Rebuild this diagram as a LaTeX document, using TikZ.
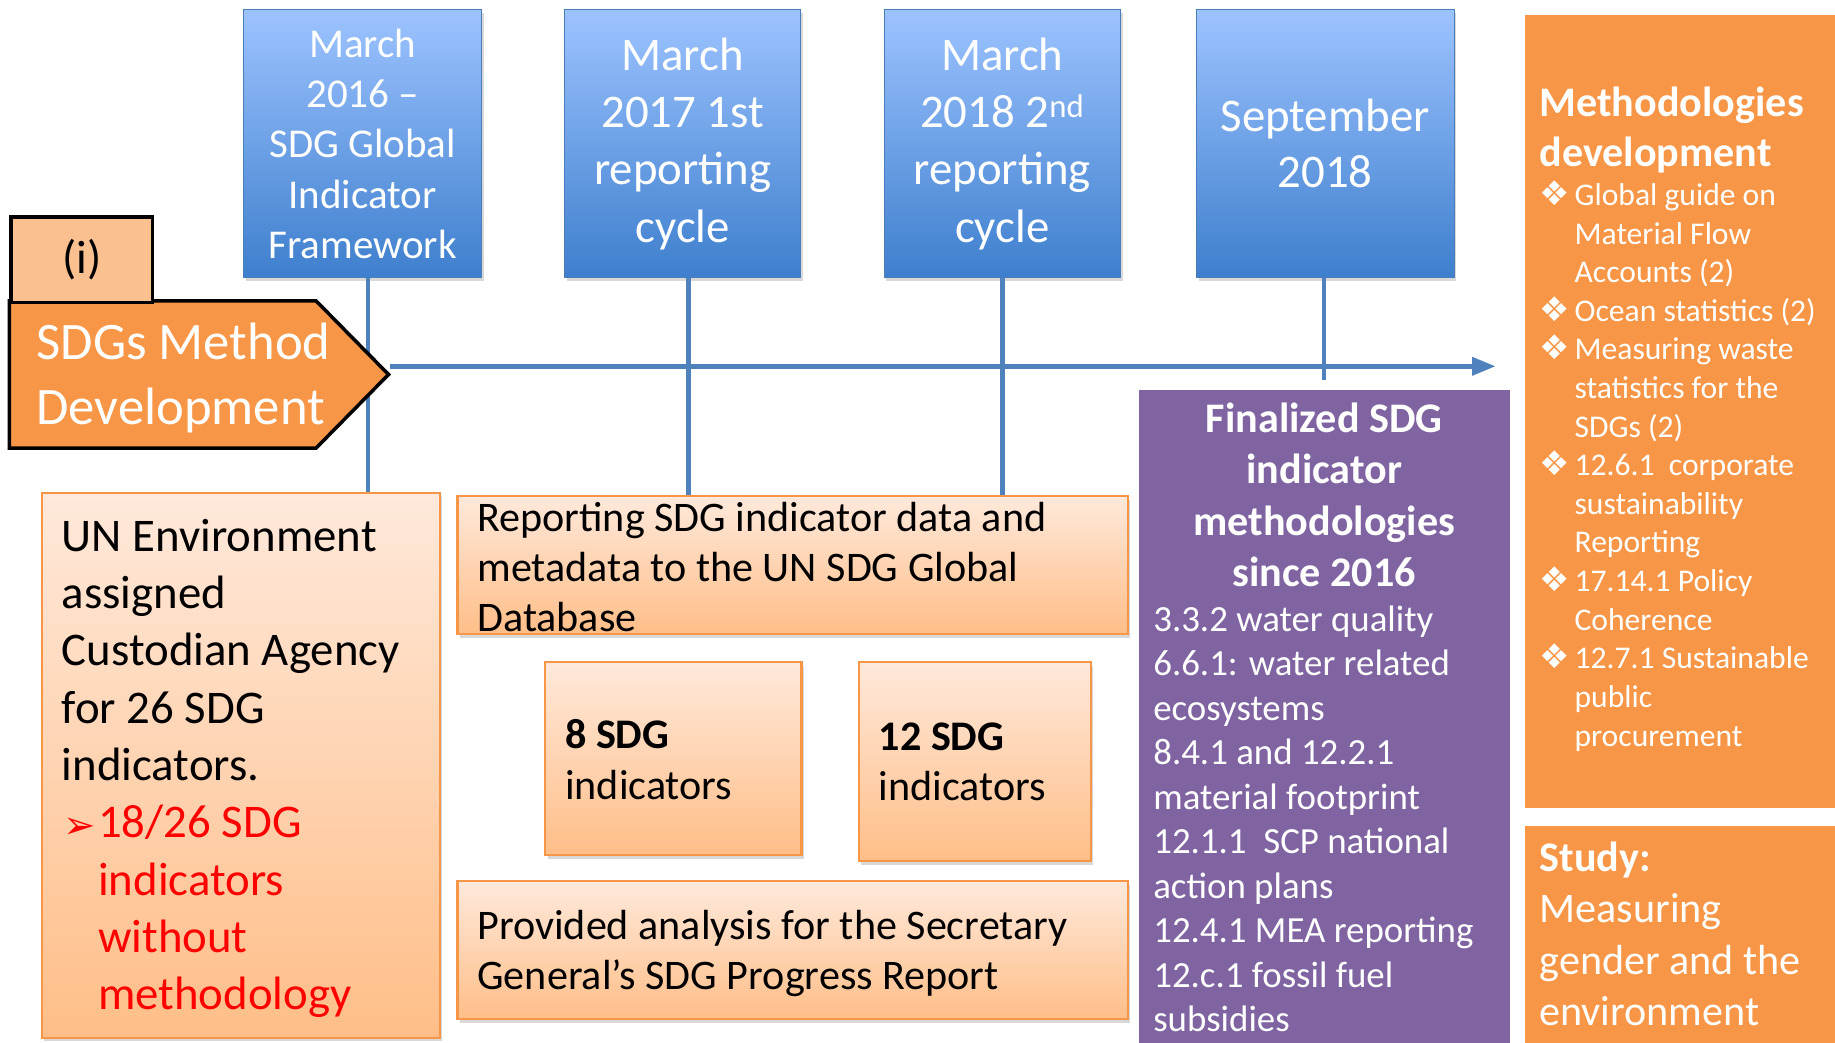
\documentclass[tikz,border=0pt]{standalone}
\usepackage{fontspec}
\setmainfont{Carlito}
\newfontfamily\symfont{DejaVu Sans}
\usetikzlibrary{shadows,arrows.meta,calc}
\definecolor{bluetop}{HTML}{9DC3FF}
\definecolor{bluebot}{HTML}{3E7FCD}
\definecolor{blueedge}{HTML}{4A7EBB}
\definecolor{linecol}{HTML}{4F81BD}
\definecolor{orfill}{HTML}{F79646}
\definecolor{ortop}{HTML}{FFE9DB}
\definecolor{orbot}{HTML}{FFBE88}
\definecolor{ilight}{HTML}{FAC090}
\definecolor{purp}{HTML}{8064A2}
\definecolor{redtxt}{HTML}{FF0000}
\newcommand\fs[2]{\fontsize{#1}{#2}\selectfont}
\newcommand\bul[1]{\mbox{\makebox[30pt][l]{\hspace{0pt}{\symfont\fs{29}{29}❖}}#1}}
\newcommand\ind[1]{\mbox{\hspace*{30pt}#1}}
\newcommand\redl[1]{\mbox{\hspace*{31pt}\textcolor{redtxt}{#1}}}
\begin{document}
\begin{tikzpicture}[x=1pt,y=-1pt,
 bluebox/.style={draw=blueedge, line width=0.8pt, top color=bluetop, bottom color=bluebot, text=white, align=center, anchor=north west, inner sep=0pt, drop shadow={shadow xshift=2pt, shadow yshift=-3pt, opacity=0.3}},
 orbox/.style={draw=orfill, line width=1.8pt, top color=ortop, bottom color=orbot, anchor=north west, inner xsep=17pt, inner ysep=0pt, font=\fs{36}{43}, drop shadow={shadow xshift=2pt, shadow yshift=-3pt, opacity=0.3}},
 purpbox/.style={fill=purp, draw=white, line width=3pt, text=white, anchor=north west, inner xsep=14pt, inner ysep=0pt, drop shadow={shadow xshift=-1pt, shadow yshift=1pt, opacity=0.15}},
 orpanel/.style={fill=orfill, draw=white, line width=3pt, text=white, anchor=north west, inner xsep=14pt, inner ysep=0pt, drop shadow={shadow xshift=-1pt, shadow yshift=1pt, opacity=0.15}},
 tline/.style={draw=linecol, line width=4pt},
 pentshape/.style={fill=orfill, draw=black, line width=3pt, line join=miter},
 ilabel/.style={fill=ilight, draw=black, line width=3pt, anchor=north west, inner sep=0pt, font=\fs{40}{48}},
]
\useasboundingbox[fill=white] (0,0) rectangle (1568,891);

% timeline boxes
\node[bluebox, minimum width=203pt, minimum height=229pt, font=\fs{35}{43}] (b1) at (208,8) {March\\2016 –\\SDG Global\\Indicator\\Framework};
\node[bluebox, minimum width=202pt, minimum height=229pt, font=\fs{40}{49}] (b2) at (482,8) {March\\2017 1st\\reporting\\cycle};
\node[bluebox, minimum width=202pt, minimum height=229pt, font=\fs{40}{49}] (b3) at (755,8) {March\\2018 2\textsuperscript{nd}\\reporting\\cycle};
\node[bluebox, minimum width=220pt, minimum height=229pt, font=\fs{40}{48}] (b4) at (1022,8) {September\\2018};

% lower boxes
\node[orbox, font=\fs{40}{49}] (un) at (35,420) {\parbox[c][466pt][t]{306pt}{\raggedright\rule{0pt}{50pt}UN Environment\\assigned\\Custodian Agency\\for 26 SDG\\indicators.\\
\mbox{\hspace*{1pt}\makebox[30pt][l]{\raisebox{-1pt}{\textcolor{redtxt}{\symfont\fs{33}{33}➢}}}\textcolor{redtxt}{18/26 SDG}}\\
\redl{indicators}\\\redl{without}\\\redl{methodology}}};

\node[orbox] (rep) at (390,423) {\parbox[c][118pt][t]{539pt}{\raggedright\rule{0pt}{30pt}Reporting SDG indicator data and\\metadata to the UN SDG Global\\Database}};
\node[orbox] (s8) at (465,565) {\parbox[c][165pt][t]{185pt}{\raggedright\rule{0pt}{74pt}\textbf{8 SDG}\\indicators}};
\node[orbox] (s12) at (733,565) {\parbox[c][170pt][t]{164pt}{\raggedright\rule{0pt}{75pt}\textbf{12 SDG}\\indicators}};
\node[orbox] (prov) at (390,752) {\parbox[c][118pt][t]{539pt}{\raggedright\rule{0pt}{50pt}Provided analysis for the Secretary\\General’s SDG Progress Report}};

\node[purpbox] (fin) at (970,330) {\parbox[c][561pt][t]{292pt}{{\centering\bfseries\fs{36}{44}\rule{0pt}{38pt}Finalized SDG\\indicator\\methodologies\\since 2016\par}
\raggedright\fs{31.5}{38}3.3.2 water quality\\6.6.1: water related\\ecosystems\\8.4.1 and 12.2.1\\material footprint\\12.1.1~~SCP national\\action plans\\12.4.1 MEA reporting\\12.c.1 fossil fuel\\subsidies}};

\node[orpanel] (meth) at (1300,10) {\parbox[c][680pt][t]{240pt}{{\raggedright\bfseries\fs{36}{43}\rule{0pt}{88pt}Methodologies\\development\par}
\raggedright\fs{27}{33}\bul{Global guide on}\\\ind{Material Flow}\\\ind{Accounts (2)}\\\bul{Ocean statistics (2)}\\\bul{Measuring waste}\\\ind{statistics for the}\\\ind{SDGs (2)}\\\bul{12.6.1~~corporate}\\\ind{sustainability}\\\ind{Reporting}\\\bul{17.14.1 Policy}\\\ind{Coherence}\\\bul{12.7.1 Sustainable}\\\ind{public}\\\ind{procurement}}};

\node[orpanel, font=\fs{36}{44}] (study) at (1300,703) {\parbox[c][188pt][t]{240pt}{\raggedright\rule{0pt}{40pt}\textbf{Study:}\\Measuring\\gender and the\\environment}};

% connectors
\coordinate (tip) at (333,313);
\coordinate (tlend) at (1278,313);
\draw[tline] ([xshift=4.5pt]b1.south) -- ([xshift=4.5pt]b1.south |- un.north);
\draw[tline] ([xshift=5pt]b2.south) -- ([xshift=5pt]b2.south |- rep.north);
\draw[tline] (b3.south) -- (b3.south |- rep.north);
\draw[tline, shorten >=5pt] ([xshift=-1pt]b4.south) -- ([xshift=-1pt]b4.south |- fin.north);
\draw[tline, -{Triangle[length=20pt,width=15pt]}] (tip) -- (tlend);

% title shapes
\draw[pentshape] (8,257) -- (270,257) -- (332,320) -- (270,383) -- (8,383) -- cycle;
\node[anchor=west, align=left, inner sep=0pt, text=white, font=\fs{45}{55}] (sdgs) at (31,323) {SDGs Method\\Development};
\node[ilabel, minimum width=121pt, minimum height=73pt] (ilab) at (8,184) {(i)};
\end{tikzpicture}
\end{document}
